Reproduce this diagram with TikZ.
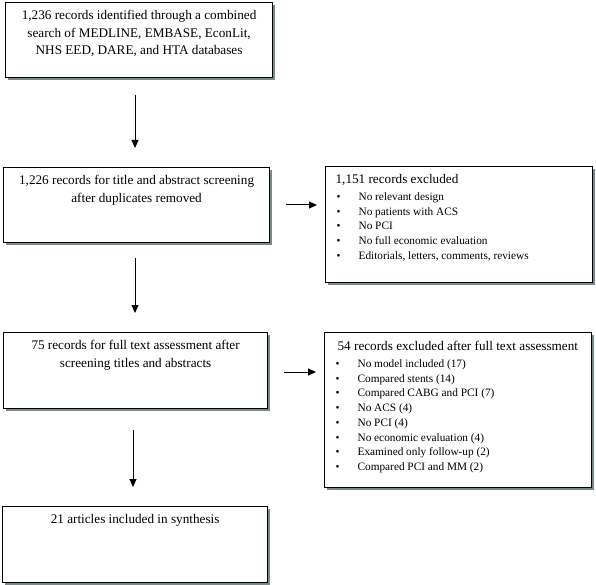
\documentclass[tikz,border=0pt]{standalone}
\usepackage{fontspec}
\setmainfont{Liberation Serif}
\usetikzlibrary{arrows.meta,shadows}
\definecolor{shadowgray}{RGB}{120,138,138}
\newcommand{\itm}[1]{\hspace*{11pt}\makebox[22pt][l]{\textbullet}#1\par}

\begin{document}
\begin{tikzpicture}[x=1pt, y=-1pt,
    box/.style={draw, line width=1.2pt, fill=white, inner sep=0pt, anchor=north west,
      drop shadow={shadow xshift=2.5pt, shadow yshift=-2.5pt, fill=shadowgray, opacity=1}},
    arr/.style={-{Triangle[length=8pt,width=7pt]}, line width=1pt}]
      \useasboundingbox (0,0) rectangle (596,585);

      \node[box] (search) at (5,2) {\parbox[t][75pt][t]{267pt}{\centering\fontsize{13.2}{17.5}\selectfont\vspace*{8pt}
        1,236 records identified through a combined\\ search of MEDLINE, EMBASE, EconLit,\\ NHS EED, DARE, and HTA databases}};
      \node[box] (screen) at (3,167) {\parbox[t][75pt][t]{266pt}{\centering\fontsize{13.2}{17.5}\selectfont\vspace*{8pt}
        1,226 records for title and abstract screening\\ after duplicates removed}};
      \node[box] (fulltext) at (3,332) {\parbox[t][76pt][t]{264pt}{\centering\fontsize{13.2}{17.5}\selectfont\vspace*{8pt}
        75 records for full text assessment after\\ screening titles and abstracts}};
      \node[box] (incl) at (2,506) {\parbox[t][76pt][t]{265pt}{\centering\fontsize{13.2}{17.5}\selectfont\vspace*{8pt}
        21 articles included in synthesis}};

      \node[box] (excl1) at (325,166) {\parbox[t][116pt][t]{267pt}{\fontsize{11.3}{14.7}\selectfont\vspace*{8pt}
        \hspace*{10pt}{\fontsize{13.2}{14}\selectfont 1,151 records excluded}\par\vspace{2pt}
        \itm{No relevant design}
        \itm{No patients with ACS}
        \itm{No PCI}
        \itm{No full economic evaluation}
        \itm{Editorials, letters, comments, reviews}}};
      \node[box] (excl2) at (324,332) {\parbox[t][155pt][t]{267pt}{\fontsize{11.3}{14.7}\selectfont\vspace*{9pt}
        \hspace*{13pt}{\fontsize{13.2}{14}\selectfont 54 records excluded after full text assessment}\par\vspace{2pt}
        \itm{No model included (17)}
        \itm{Compared stents (14)}
        \itm{Compared CABG and PCI (7)}
        \itm{No ACS (4)}
        \itm{No PCI (4)}
        \itm{No economic evaluation (4)}
        \itm{Examined only follow-up (2)}
        \itm{Compared PCI and MM (2)}}};

      \coordinate (a1) at (135,95);
      \coordinate (a2) at (135,148);
      \coordinate (a3) at (135,258);
      \coordinate (a4) at (135,313);
      \coordinate (a5) at (133,430);
      \coordinate (a6) at (133,487);
      \coordinate (h1) at (286,205);
      \coordinate (h2) at (317,205);
      \coordinate (h3) at (284,372);
      \coordinate (h4) at (316,372);

      \draw[arr] (a1) -- (a2);
      \draw[arr] (a3) -- (a4);
      \draw[arr] (a5) -- (a6);
      \draw[arr] (h1) -- (h2);
      \draw[arr] (h3) -- (h4);
    \end{tikzpicture}
\end{document}
